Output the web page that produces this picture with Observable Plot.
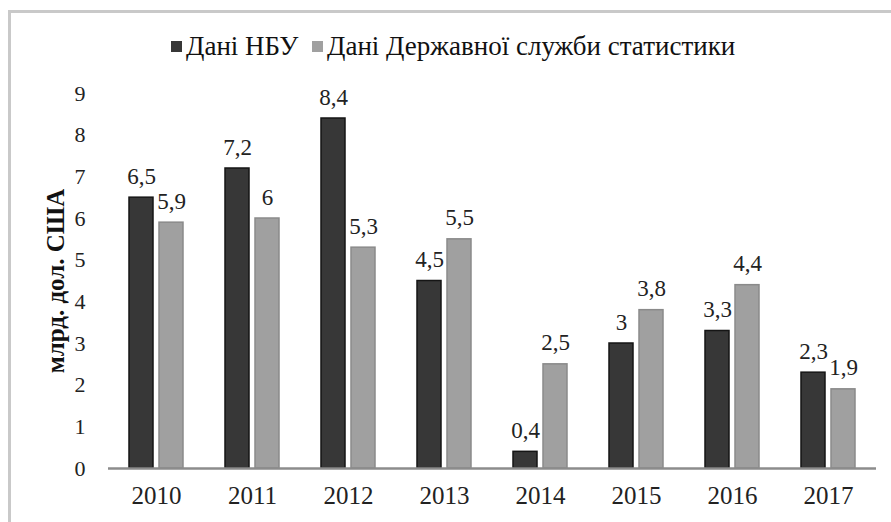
<!DOCTYPE html>
<html>
<head>
<meta charset="utf-8">
<script src="https://cdn.jsdelivr.net/npm/d3@7"></script>
<script src="https://cdn.jsdelivr.net/npm/@observablehq/plot@0.6"></script>
<style>
  html, body { margin: 0; padding: 0; background: #fff; }
  body { width: 891px; height: 522px; position: relative; overflow: hidden; font-family: "Liberation Serif", "Times New Roman", Times, "DejaVu Serif", serif; }
  #frame { position: absolute; left: 8px; top: 10px; width: 900px; height: 530px; border-left: 3px solid #c9c9c9; border-top: 3px solid #c9c9c9; box-sizing: border-box; }
  #legend { position: absolute; left: 0; top: 0; width: 891px; height: 72px; }
  .item { position: absolute; top: 31px; font-size: 27px; color: #111; white-space: nowrap; line-height: 30px; }
  .sw { position: absolute; top: 10px; width: 11px; height: 11px; }
  #chart { position: absolute; left: 0; top: 72px; }
</style>
</head>
<body>
<div id="frame"></div>
<div id="legend"></div>
<div id="chart"></div>
<script>
const years = ["2010","2011","2012","2013","2014","2015","2016","2017"];
const seriesNames = ["Дані НБУ", "Дані Державної служби статистики"];
const nbu = [6.5, 7.2, 8.4, 4.5, 0.4, 3.0, 3.3, 2.3];
const stat = [5.9, 6.0, 5.3, 5.5, 2.5, 3.8, 4.4, 1.9];
const yTicks = [0,1,2,3,4,5,6,7,8,9];
const yLabel = "млрд. дол. США";
const colors = ["#373737", "#a0a0a0"];
const strokes = ["#151515", "#8a8a8a"];

const fmt = v => String(v).replace(".", ",");
const data = [];
years.forEach((y, i) => {
  data.push({year: y, series: seriesNames[0], value: nbu[i]});
  data.push({year: y, series: seriesNames[1], value: stat[i]});
});
const d0 = data.filter(d => d.series === seriesNames[0]);
const d1 = data.filter(d => d.series === seriesNames[1]);

// Legend
const legend = document.getElementById("legend");
const sx = [171, 312];
seriesNames.forEach((n, i) => {
  const el = document.createElement("div");
  el.className = "item";
  el.style.left = sx[i] + "px";
  el.innerHTML = `<span class="sw" style="left:0;background:${colors[i]}"></span><span style="margin-left:15px">${n}</span>`;
  legend.appendChild(el);
});

const font = "'Liberation Serif', 'Times New Roman', Times, 'DejaVu Serif', serif";
const chart = Plot.plot({
  width: 891,
  height: 450,
  marginLeft: 108,
  marginRight: 15,
  marginTop: 21,
  marginBottom: 54,
  style: {fontFamily: font, fontSize: "22px", color: "#222", background: "transparent"},
  x: {type: "band", domain: years, padding: 0},
  y: {domain: [0, 9], ticks: yTicks},
  marks: [
    Plot.axisY({ticks: yTicks, tickSize: 0, tickPadding: 23, label: null, fontSize: 22, tickFormat: d => String(d)}),
    Plot.axisX({tickSize: 0, tickPadding: 18, label: null, fontSize: 25}),
    Plot.barY(d0, {x: "year", y: "value", fill: colors[0], stroke: strokes[0], strokeWidth: 1.5, insetLeft: 21, insetRight: 51}),
    Plot.barY(d1, {x: "year", y: "value", fill: colors[1], stroke: strokes[1], strokeWidth: 1.5, insetLeft: 51, insetRight: 21}),
    Plot.ruleY([0], {stroke: "#8c8c8c", strokeWidth: 2.5}),
    Plot.text(d0, {x: "year", y: "value", text: d => fmt(d.value), dx: -15, dy: -14, lineAnchor: "bottom", fontSize: 23, fill: "#222"}),
    Plot.text(d1, {x: "year", y: "value", text: d => fmt(d.value), dx: 15, dy: -14, lineAnchor: "bottom", fontSize: 23, fill: "#222"}),
    Plot.text([yLabel], {frameAnchor: "left", textAnchor: "middle", dx: -53, rotate: -90, fontSize: 25, fontWeight: "bold", fill: "#111", text: d => d})
  ]
});
document.getElementById("chart").appendChild(chart);
</script>
</body>
</html>
